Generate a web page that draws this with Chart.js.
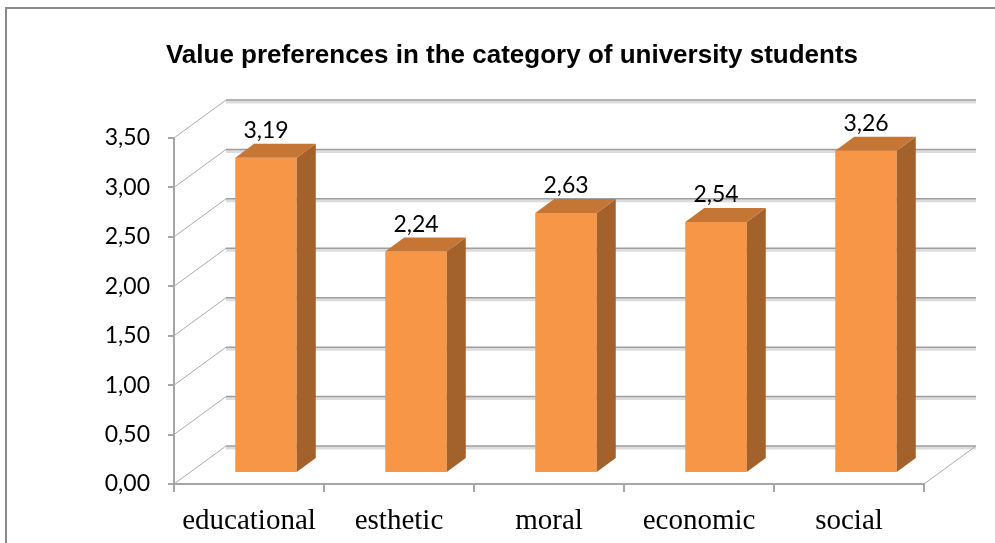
<!DOCTYPE html>
<html>
<head>
<meta charset="utf-8">
<script src="https://cdn.jsdelivr.net/npm/chart.js@4.4.1/dist/chart.umd.min.js"></script>
<style>
  html, body { margin: 0; padding: 0; background: #fff; overflow: hidden; }
  #wrap { position: relative; width: 995px; height: 543px; overflow: hidden; }
  #frame { position: absolute; left: 5px; top: 7px; width: 1100px; height: 700px;
           border-left: 2px solid #8a8a8a; border-top: 2px solid #8a8a8a; }
  #chart { position: absolute; left: 0; top: 0; }
</style>
</head>
<body>
<div id="wrap">
  <div id="frame"></div>
  <canvas id="chart" width="995" height="543"></canvas>
</div>
<script>
(function() {
    'use strict';

    // =========================================
    // DATA
    // =========================================
    var chartTitle = 'Value preferences in the category of university students';
    var categories = ['educational', 'esthetic', 'moral', 'economic', 'social'];
    var values = [3.19, 2.24, 2.63, 2.54, 3.26];
    var yTickValues = [0, 0.5, 1, 1.5, 2, 2.5, 3, 3.5];
    var yTickLabels = ['0,00', '0,50', '1,00', '1,50', '2,00', '2,50', '3,00', '3,50'];
    var valueLabels = ['3,19', '2,24', '2,63', '2,54', '3,26'];

    // 3D offsets (pixels)
    var WALL = { dx: 52, dy: -38 };   // back wall relative to front plane
    var FRONT = { dx: 17, dy: -11 };  // bar front face relative to front plane
    var DEPTH = { dx: 19, dy: -14 };  // bar depth

    var labelFont = 'Lato, "Open Sans", sans-serif';

    // =========================================
    // 3D PLUGIN
    // =========================================
    var bar3d = {
        id: 'bar3d',
        beforeDatasetsDraw: function(chart) {
            var ctx = chart.ctx;
            var area = chart.chartArea;
            var yScale = chart.scales.y;

            ctx.save();
            yScale.ticks.forEach(function(t) {
                var py = yScale.getPixelForValue(t.value);
                var bx = area.left + WALL.dx, by = py + WALL.dy;

                // side wall diagonal
                ctx.strokeStyle = '#ababab';
                ctx.lineWidth = 1;
                ctx.beginPath();
                ctx.moveTo(area.left, py);
                ctx.lineTo(bx, by);
                ctx.stroke();

                // back wall line + soft shadow
                ctx.strokeStyle = '#dcdcdc';
                ctx.lineWidth = 3;
                ctx.beginPath();
                ctx.moveTo(bx, by + 2);
                ctx.lineTo(area.right + WALL.dx, by + 2);
                ctx.stroke();

                ctx.strokeStyle = '#9e9e9e';
                ctx.lineWidth = 1.5;
                ctx.beginPath();
                ctx.moveTo(bx, by);
                ctx.lineTo(area.right + WALL.dx, by);
                ctx.stroke();
            });

            // floor right edge
            ctx.strokeStyle = '#ababab';
            ctx.lineWidth = 1;
            ctx.beginPath();
            ctx.moveTo(area.right, area.bottom);
            ctx.lineTo(area.right + WALL.dx, area.bottom + WALL.dy);
            ctx.stroke();
            ctx.restore();

            // bar front faces are shifted into the depth
            ctx.save();
            ctx.translate(FRONT.dx, FRONT.dy);
        },
        afterDatasetsDraw: function(chart) {
            var ctx = chart.ctx;
            ctx.restore();

            var meta = chart.getDatasetMeta(0);
            ctx.save();
            meta.data.forEach(function(bar, i) {
                var p = bar.getProps(['x', 'y', 'base', 'width'], true);
                var l = p.x - p.width / 2 + FRONT.dx;
                var r = p.x + p.width / 2 + FRONT.dx;
                var t = p.y + FRONT.dy;
                var b = p.base + FRONT.dy;

                // side face
                ctx.fillStyle = '#a3612b';
                ctx.beginPath();
                ctx.moveTo(r, t);
                ctx.lineTo(r + DEPTH.dx, t + DEPTH.dy);
                ctx.lineTo(r + DEPTH.dx, b + DEPTH.dy);
                ctx.lineTo(r, b);
                ctx.closePath();
                ctx.fill();

                // top face
                ctx.fillStyle = '#c67634';
                ctx.beginPath();
                ctx.moveTo(l, t);
                ctx.lineTo(l + DEPTH.dx, t + DEPTH.dy);
                ctx.lineTo(r + DEPTH.dx, t + DEPTH.dy);
                ctx.lineTo(r, t);
                ctx.closePath();
                ctx.fill();

                // value label
                ctx.fillStyle = '#000';
                ctx.font = '23px ' + labelFont;
                ctx.textAlign = 'center';
                ctx.textBaseline = 'alphabetic';
                ctx.fillText(valueLabels[i], (l + r) / 2, t + DEPTH.dy - 6);
            });
            ctx.restore();
        }
    };

    // =========================================
    // CHART
    // =========================================
    new Chart(document.getElementById('chart'), {
        type: 'bar',
        data: {
            labels: categories,
            datasets: [{
                data: values,
                backgroundColor: '#f79646',
                borderWidth: 0,
                categoryPercentage: 1,
                barPercentage: 0.41,
                clip: false
            }]
        },
        options: {
            responsive: false,
            animation: false,
            layout: { padding: { left: 100, right: 71, top: 0, bottom: 0 } },
            plugins: {
                legend: { display: false },
                tooltip: { enabled: false },
                title: {
                    display: true,
                    text: chartTitle,
                    color: '#000',
                    font: { family: '"Liberation Sans Narrow", "Liberation Sans", Arial, sans-serif', size: 26, weight: 'bold' },
                    padding: { top: 40, bottom: 66.8 }
                }
            },
            scales: {
                x: {
                    offset: true,
                    afterFit: function(s) { s.height = 59; },
                    grid: { offset: true, drawOnChartArea: false, tickLength: 8, color: '#a6a6a6', lineWidth: 2 },
                    border: { display: true, color: '#a6a6a6', width: 2 },
                    ticks: {
                        color: '#000',
                        padding: 12,
                        maxRotation: 0,
                        autoSkip: false,
                        font: { family: '"Liberation Serif", "Times New Roman", serif', size: 29 }
                    }
                },
                y: {
                    min: 0,
                    max: 3.5,
                    afterFit: function(s) { s.width = 74; },
                    afterBuildTicks: function(s) {
                        s.ticks = yTickValues.map(function(v) { return { value: v }; });
                    },
                    grid: { drawOnChartArea: false, tickLength: 6, color: '#a6a6a6', lineWidth: 2 },
                    border: { display: true, color: '#a6a6a6', width: 2 },
                    ticks: {
                        color: '#000',
                        padding: 18,
                        font: { family: labelFont, size: 23 },
                        callback: function(v, idx) { return yTickLabels[idx]; }
                    }
                }
            }
        },
        plugins: [bar3d]
    });

})();
</script>
</body>
</html>
